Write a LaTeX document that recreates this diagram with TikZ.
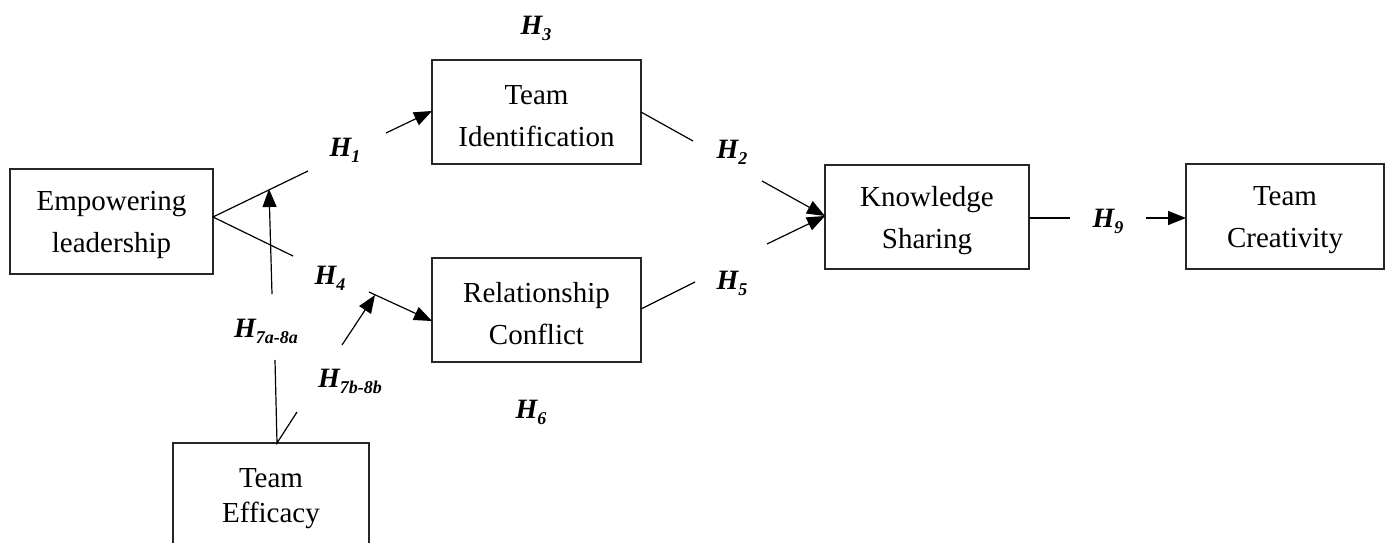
\documentclass[tikz,border=0pt]{standalone}
\usepackage{fontspec}
\setmainfont{Liberation Serif}
\usetikzlibrary{arrows.meta}

% hypothesis label: bold italic H with a lowered index
\newcommand\hyp[1]{H\raisebox{-6pt}{\fontsize{18}{18}\selectfont #1}}
% tall invisible strut that sets the first line of a box a little lower
\newcommand\topstrut{\rule{0pt}{27pt}}

\begin{document}
\begin{tikzpicture}[x=1pt,y=-1pt,
  box/.style={draw=black!85, line width=1.3pt, rectangle, align=center, inner sep=0pt,
    font=\fontsize{29}{42}\selectfont},
  hlab/.style={inner sep=0pt, font=\fontsize{28}{28}\selectfont\bfseries\itshape},
  link/.style={line width=1.2pt},
  arr/.style={line width=1.2pt, -{Triangle[length=18pt,width=14pt]}}]
\useasboundingbox (0,0) rectangle (1392,543);

% constructs
\node[box, minimum width=203pt, minimum height=105pt] (emp) at (111.5,221.5) {\topstrut Empowering\\leadership};
\node[box, minimum width=209pt, minimum height=104pt] (tid) at (536.5,112) {\topstrut Team\\Identification};
\node[box, minimum width=209pt, minimum height=104pt] (rel) at (536.5,310) {\topstrut Relationship\\Conflict};
\node[box, minimum width=204pt, minimum height=104pt] (ks) at (927,217) {\topstrut Knowledge\\Sharing};
\node[box, minimum width=198pt, minimum height=105pt] (tc) at (1285,216.5) {\topstrut Team\\Creativity};
\node[box, minimum width=196pt, minimum height=104pt] (te) at (271,495) {};
\node[inner sep=0pt, align=center, font=\fontsize{29}{35}\selectfont] (tetext) at (271,499) {Team\\Efficacy};

% hypothesis labels
\node[hlab] (h3) at (536,28) {\hyp{3}};
\node[hlab] (h1) at (345,150) {\hyp{1}};
\node[hlab] (h2) at (732,152) {\hyp{2}};
\node[hlab] (h4) at (330,278) {\hyp{4}};
\node[hlab] (h5) at (732,283) {\hyp{5}};
\node[hlab] (h6) at (531,412) {\hyp{6}};
\node[hlab] (h7a) at (266,331) {\hyp{7a-8a}};
\node[hlab] (h7b) at (350,381) {\hyp{7b-8b}};
\node[hlab] (h9) at (1108,221) {\hyp{9}};

% connector end points
\coordinate (eo) at (213,217);
\coordinate (u1) at (308,171);
\coordinate (u2) at (386,133);
\coordinate (ui) at (432,111);
\coordinate (l1) at (293,256);
\coordinate (l2) at (369,292);
\coordinate (lr) at (432,321);
\coordinate (ma) at (272,294);
\coordinate (mat) at (269,189);
\coordinate (mb) at (342,345);
\coordinate (mbt) at (375,295);
\coordinate (e1) at (275,360);
\coordinate (e2) at (277,443);
\coordinate (e3) at (297,412);
\coordinate (t1) at (641,112);
\coordinate (t2) at (693,141);
\coordinate (t3) at (762,181);
\coordinate (kt) at (825,216);
\coordinate (r1) at (641,309);
\coordinate (r2) at (695,282);
\coordinate (r3) at (767,244);
\coordinate (k1) at (1029,218);
\coordinate (k2) at (1070,218);
\coordinate (k3) at (1146,218);
\coordinate (ct) at (1186,218);

% paths
\draw[link] (eo) -- (u1);
\draw[arr] (u2) -- (ui);
\draw[link] (eo) -- (l1);
\draw[arr] (l2) -- (lr);
\draw[arr] (ma) -- (mat);
\draw[arr] (mb) -- (mbt);
\draw[link] (e1) -- (e2) -- (e3);
\draw[link] (t1) -- (t2);
\draw[arr] (t3) -- (kt);
\draw[link] (r1) -- (r2);
\draw[arr] (r3) -- (kt);
\draw[link] (k1) -- (k2);
\draw[arr] (k3) -- (ct);
\end{tikzpicture}
\end{document}
